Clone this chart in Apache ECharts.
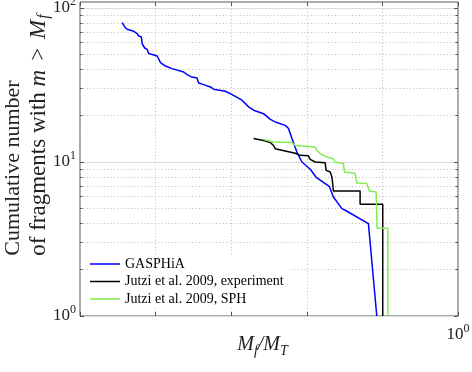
<!DOCTYPE html>
<html><head><meta charset="utf-8">
<script src="https://cdn.jsdelivr.net/npm/echarts@6/dist/echarts.min.js"></script>
<style>html,body{margin:0;padding:0;background:#fff}#c{width:472px;height:372px}</style>
</head><body><div id="c"></div>
<script>
// ---- data ----
const seriesNames = ['GASPHiA', 'Jutzi et al. 2009, experiment', 'Jutzi et al. 2009, SPH'];
const gasX = [3.61e-5, 3.91e-5, 4.20e-5, 5.14e-5, 5.70e-5, 5.98e-5, 6.49e-5, 6.63e-5, 7.18e-5, 7.72e-5, 8.11e-5, 1.05e-4, 1.16e-4, 1.35e-4, 1.65e-4, 2.35e-4, 2.61e-4, 3.03e-4, 3.53e-4, 3.71e-4, 4.32e-4, 5.30e-4, 5.86e-4, 8.36e-4, 9.73e-4, 1.39e-3, 1.70e-3, 1.98e-3, 2.68e-3, 3.29e-3, 3.82e-3, 5.18e-3, 5.73e-3, 6.36e-3, 7.40e-3, 8.62e-3, 1.11e-2, 1.33e-2, 1.98e-2, 2.25e-2, 2.91e-2, 3.22e-2, 6.53e-2, 8.43e-2];
const gasN = [80.4, 75.3, 72.7, 70.6, 68.2, 65.8, 64.8, 58.7, 55.0, 53.9, 50.6, 48.8, 44.2, 42.0, 40.4, 38.4, 36.9, 35.6, 35.1, 32.6, 31.8, 30.7, 29.7, 28.8, 27.8, 25.2, 22.8, 21.7, 20.6, 18.9, 18.2, 17.3, 16.5, 14.2, 11.6, 10.0, 8.97, 7.96, 6.95, 5.93, 4.98, 4.86, 3.98, 1];
const expX = [1.98e-3, 2.68e-3, 3.29e-3, 3.63e-3, 3.82e-3, 5.18e-3, 7.03e-3, 8.18e-3, 1.05e-2, 1.11e-2, 1.29e-2, 1.75e-2, 1.80e-2, 2.04e-2, 2.15e-2, 2.25e-2, 5.07e-2, 5.07e-2, 0.101, 0.101];
const expN = [14.2, 13.8, 13.4, 12.8, 12.2, 11.8, 11.4, 11.05, 10.97, 10.4, 10.0, 9.9, 8.83, 8.61, 7.99, 6.48, 6.48, 5.31, 5.31, 1];
const sphX = [2.68e-3, 3.63e-3, 6.36e-3, 7.03e-3, 9.53e-3, 1.29e-2, 1.36e-2, 1.50e-2, 1.84e-2, 2.25e-2, 2.37e-2, 3.05e-2, 3.15e-2, 4.36e-2, 4.59e-2, 6.22e-2, 6.73e-2, 8.26e-2, 8.50e-2, 0.118, 0.118];
const sphN = [14.0, 13.5, 13.4, 12.8, 12.65, 12.5, 11.9, 11.34, 10.78, 10.5, 10.0, 9.76, 8.61, 8.41, 7.31, 7.24, 6.48, 6.39, 3.72, 3.72, 1];
const xTickExps = [0];        // only 10^0 is labelled on x
const yTickExps = [0, 1, 2];  // 10^0, 10^1, 10^2
const xRange = [1e-5, 1];
const yRange = [1, 100];
const yFrameTop = 109.4;      // the box extends a little above 10^2

// ---- styling ----
const SERIF = '"Liberation Serif","Times New Roman",serif';
const axCol = '#555', gridCol = '#dcdcdc', minorCol = '#bcbcbc', txtCol = '#222';
const dot = [1, 2.4];
const pairs = (xs, ys) => xs.map((x, i) => [x, ys[i]]);
function expLabel(v, list) {
  const e = Math.log10(v), r = Math.round(e);
  if (Math.abs(e - r) > 1e-6 || list.indexOf(r) < 0) return '';
  return '{b|10}{s|' + r + '}';
}
const labelRich = {
  b: {fontFamily: SERIF, fontSize: 17, color: txtCol},
  s: {fontFamily: SERIF, fontSize: 12, color: txtCol, padding: [0, 0, 12, 0]}
};
const tickStyle = {inside: true, length: 4, lineStyle: {color: axCol}};
const minorTickStyle = {show: true, splitNumber: 9, length: 2.5, lineStyle: {color: axCol}};

const chart = echarts.init(document.getElementById('c'), null, {renderer: 'canvas'});
chart.setOption({
  animation: false,
  backgroundColor: '#fff',
  grid: [
    {left: 80, top: 2, width: 378, height: 314, containLabel: false, outerBoundsMode: 'none',
     show: true, borderColor: axCol, borderWidth: 1, backgroundColor: 'transparent'},
    {left: 80, top: 8, width: 378, height: 308, containLabel: false, outerBoundsMode: 'none', show: false}
  ],
  xAxis: [
    {type: 'log', gridIndex: 0, min: xRange[0], max: xRange[1], position: 'bottom',
     axisLine: {show: false}, axisTick: tickStyle,
     axisLabel: {formatter: v => expLabel(v, xTickExps), rich: labelRich, margin: 7, showMinLabel: true, showMaxLabel: true, hideOverlap: false},
     splitLine: {show: true, lineStyle: {color: minorCol, type: dot}},
     name: '{i|M}{sub|f}{i|/M}{sub|T}', nameLocation: 'middle', nameGap: 16, nameMoveOverlap: false,
     nameTextStyle: {padding: [0, 13, 0, 0], rich: {
       i: {fontFamily: SERIF, fontStyle: 'italic', fontSize: 20, color: txtCol},
       sub: {fontFamily: SERIF, fontStyle: 'italic', fontSize: 14, color: txtCol, padding: [12, 0, 0, 0]}
     }}},
    {type: 'log', gridIndex: 0, min: xRange[0], max: xRange[1], position: 'top',
     axisLine: {show: false}, axisTick: tickStyle, axisLabel: {show: false}, splitLine: {show: false}},
    {type: 'log', gridIndex: 1, min: xRange[0], max: xRange[1], show: false}
  ],
  yAxis: [
    {type: 'log', gridIndex: 0, min: yRange[0], max: yFrameTop, show: false},
    {type: 'log', gridIndex: 1, min: yRange[0], max: yRange[1], position: 'left',
     axisLine: {show: false}, axisTick: tickStyle, minorTick: minorTickStyle,
     axisLabel: {formatter: v => expLabel(v, yTickExps), rich: labelRich, margin: 4, align: 'right'},
     splitLine: {show: true, lineStyle: {color: gridCol}},
     minorSplitLine: {show: true, lineStyle: {color: minorCol, type: dot}},
     name: '{a|Cumulative number}\n{c|of fragments with }{i|m}{g|>}{i|M}{sub|f}',
     nameLocation: 'middle', nameRotate: 90, nameGap: 29, nameMoveOverlap: false,
     nameTextStyle: {padding: [0, 0, 0, 56], lineHeight: 25, rich: {
       a: {fontFamily: SERIF, fontSize: 22, color: txtCol, align: 'left', lineHeight: 25},
       c: {fontFamily: SERIF, fontSize: 23, color: txtCol, align: 'left', lineHeight: 25},
       i: {fontFamily: SERIF, fontStyle: 'italic', fontSize: 23, color: txtCol, align: 'left', lineHeight: 25},
       g: {fontFamily: SERIF, fontSize: 23, color: txtCol, align: 'left', lineHeight: 25, padding: [0, 9, 0, 9]},
       sub: {fontFamily: SERIF, fontStyle: 'italic', fontSize: 16, color: txtCol, align: 'left', padding: [10, 2, 0, 1]}
     }}},
    {type: 'log', gridIndex: 1, min: yRange[0], max: yRange[1], position: 'right',
     axisLine: {show: false}, axisTick: tickStyle, minorTick: minorTickStyle,
     axisLabel: {show: false}, splitLine: {show: false}}
  ],
  legend: {
    orient: 'vertical', left: 88, top: 255, icon: 'rect', itemWidth: 30, itemHeight: 1.5, itemGap: 3.5,
    padding: [2, 6, 2, 2], backgroundColor: '#fff',
    textStyle: {fontFamily: SERIF, fontSize: 14, color: '#000', lineHeight: 14},
    data: seriesNames
  },
  series: [
    {name: seriesNames[0], type: 'line', xAxisIndex: 0, yAxisIndex: 0, data: pairs(gasX, gasN),
     symbol: 'none', lineStyle: {color: '#0000ff', width: 1.5}, itemStyle: {color: '#0000ff'}},
    {name: seriesNames[1], type: 'line', xAxisIndex: 0, yAxisIndex: 0, data: pairs(expX, expN),
     symbol: 'none', lineStyle: {color: '#000000', width: 1.5}, itemStyle: {color: '#000000'}},
    {name: seriesNames[2], type: 'line', xAxisIndex: 0, yAxisIndex: 0, data: pairs(sphX, sphN),
     symbol: 'none', lineStyle: {color: '#80ee50', width: 1.5}, itemStyle: {color: '#80ee50'}}
  ]
});
</script></body></html>
